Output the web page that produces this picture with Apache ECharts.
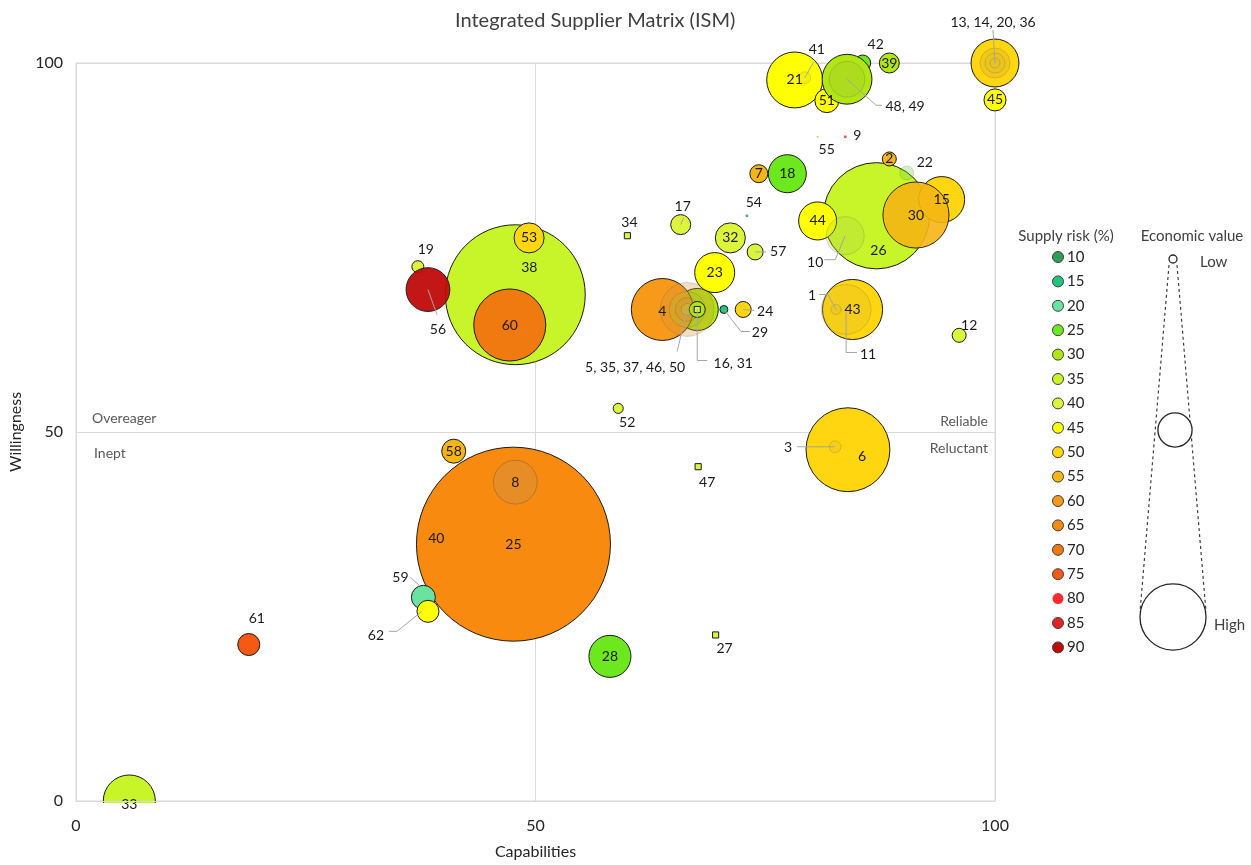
<!DOCTYPE html>
<html>
<head>
<meta charset="utf-8">
<title>Integrated Supplier Matrix (ISM)</title>
<script src="https://cdn.jsdelivr.net/npm/echarts@6/dist/echarts.min.js"></script>
<style>
  html, body { margin: 0; padding: 0; background: #ffffff; }
  #chart { width: 1251px; height: 865px; }
</style>
</head>
<body>
<div id="chart"></div>
<script>
// Suppliers, listed in drawing order (large bubbles first so smaller ones sit on top)
const SUPPLIERS = ['25','38','26','6','60','15','30','16','4','5','35','37','31','46','50','43','11','1','21','41','51','42','48','49','13','14','20','36','45','39','33','18','7','2','22','44','10','57','12','24','29','23','17','34','32','53','19','56','52','58','8','40','59','62','47','27','28','3','61','9','55','54'];
// Capabilities score (x)
const CAPABILITY = [47.6,47.8,87.1,84.0,47.2,94.2,91.4,67.6,63.8,66.5,66.5,66.5,67.6,66.5,67.6,84.5,83.8,82.7,78.2,79.3,81.7,85.6,83.9,83.9,100,100,100,100,100,88.5,5.8,77.4,74.3,88.5,90.4,80.7,83.7,73.9,96.1,72.6,70.5,69.5,65.8,60.0,71.2,49.3,37.2,38.3,59.0,41.1,47.8,39.2,37.8,38.3,67.7,69.6,58.1,82.6,18.8,83.7,80.7,73.0];
// Willingness score (y)
const WILLINGNESS = [34.8,68.6,79.3,47.6,64.5,81.5,79.4,66.6,66.6,66.6,66.6,66.6,66.6,66.6,66.6,66.6,66.6,66.6,97.7,98.0,94.9,100,97.8,97.8,100,100,100,100,95.0,100,0,85.0,85.0,87.0,85.1,78.6,76.6,74.4,63.1,66.6,66.6,71.6,78.1,76.6,76.3,76.3,72.4,69.3,53.2,47.4,43.2,33.8,27.6,25.7,45.3,22.5,19.6,48.0,21.2,90.0,90.0,79.3];
// Supply risk (%)
const SUPPLY_RISK = [65,35,35,50,70,50,55,30,60,60,30,60,30,40,40,50,50,50,45,45,45,25,30,30,50,55,50,50,45,30,35,25,55,55,25,45,35,40,40,50,15,45,40,40,40,50,40,90,40,55,60,65,20,45,40,40,25,50,75,80,25,10];
// Economic value (bubble area)
const ECONOMIC_VALUE = [100,52,30,18.7,13.8,5.6,11.6,4.7,10.2,7.7,3.4,1.5,0.68,0.38,0.1,9.6,6.6,0.27,8.3,0.38,1.53,0.68,6.6,3.4,6.1,2.4,1.06,0.27,1.29,1.06,7.2,3.84,0.86,0.52,0.52,3.84,3.84,0.68,0.52,0.68,0.17,4.25,1.06,0.1,2.4,2.4,0.38,5.1,0.27,1.53,5.1,0.04,1.53,1.29,0.1,0.1,4.7,0.38,1.29,0.024,0.01,0.024];

// Supply risk colour scale
const RISK_LEVELS = [10,15,20,25,30,35,40,45,50,55,60,65,70,75,80,85,90];
const RISK_COLORS = ['#2e9e5a','#22c47e','#6be3a0','#6ee81e','#b0e614','#c8f52a','#dcf53c','#ffff00','#ffd60f','#f5b514','#f79a1a','#f98a10','#f07a10','#f55a14','#ff2a2a','#e02424','#c00a0a'];

// Economic value key (low / medium / high reference bubbles)
const ECON_KEY_VALUES = [0.17, 3.1, 11.6];
const ECON_KEY_TEXT = ['Low', '', 'High'];

const AXIS_TICKS = [0, 50, 100];
const QUADRANT_NAMES = ['Overeager', 'Inept', 'Reliable', 'Reluctant'];

// Grouped labels: one label covers coincident suppliers
const LABEL_TEXT = { '13': '13, 14, 20, 36', '48': '48, 49', '16': '16, 31', '5': '5, 35, 37, 46, 50' };
const UNLABELLED = new Set(['14','20','36','49','31','35','37','46','50']);
// Suppliers hidden behind others, drawn see-through
const FAINT = new Set(['5','35','37','46','11','1','41','49','14','20','36','22','10','8','3']);
const FAINT_OPACITY = { '8': 0.5 };
const TRANSLUCENT = { '30': 0.9, '56': 0.95 };

// Label placement (pixel offsets from the bubble centre) and leader lines
const LABEL_LAYOUT = {
  '13': { dx: -2, dy: -41, leader: [[0, 0], [-2, -33]] },
  '41': { dx: 12, dy: -28, leader: [[0, 0], [9, -16]] },
  '42': { dx: 13, dy: -19 },
  '48': { dx: 58, dy: 27, leader: [[0, 0], [29, 26], [35, 26]] },
  '9':  { dx: 12, dy: -1 },
  '55': { dx: 9, dy: 13 },
  '22': { dx: 18, dy: -10 },
  '54': { dx: 7, dy: -13 },
  '10': { dx: -30, dy: 27, leader: [[0, 0], [-10, 24], [-21, 24]] },
  '57': { dx: 23, dy: 0, leader: [[0, 0], [11, 0]] },
  '1':  { dx: -24, dy: -14, leader: [[0, 0], [-8, -15], [-17, -15]] },
  '11': { dx: 22, dy: 45, leader: [[0, 2], [0, 43], [11, 43]] },
  '12': { dx: 10, dy: -10 },
  '24': { dx: 22, dy: 2, leader: [[0, 0], [11, 1]] },
  '29': { dx: 36, dy: 23, leader: [[0, 0], [17, 22], [26, 22]] },
  '16': { dx: 36, dy: 54, leader: [[0, 0], [0, 51], [10, 51]] },
  '5':  { dx: -52, dy: 58, leader: [[0, 0], [-10, 42]] },
  '17': { dx: 2, dy: -18, leader: [[0, 0], [3, -7]] },
  '34': { dx: 2, dy: -13 },
  '19': { dx: 8, dy: -17 },
  '56': { dx: 10, dy: 40, leader: [[0, 0], [9, 25]] },
  '52': { dx: 9, dy: 14 },
  '40': { dx: 0, dy: -13 },
  '59': { dx: -23, dy: -20, leader: [[-3, -11], [-13, -20]] },
  '62': { dx: -52, dy: 24, leader: [[-6, 0], [-31, 20], [-39, 20]] },
  '47': { dx: 9, dy: 16 },
  '27': { dx: 9, dy: 14 },
  '3':  { dx: -47, dy: 1, leader: [[0, 0], [-38, 0]] },
  '61': { dx: 8, dy: -26 },
  '26': { dx: 2, dy: 35 },
  '38': { dx: 14, dy: -27 },
  '6':  { dx: 14, dy: 7 },
  '4':  { dx: 0, dy: 2 },
  '33': { dx: 0, dy: 3 }
};

// Quadrant captions, anchored to the mid-line of the willingness axis
const QUADRANT_LAYOUT = [
  { x: 0, y: 50, dx: 16, dy: -14, align: 'left' },
  { x: 0, y: 50, dx: 18, dy: 21, align: 'left' },
  { x: 100, y: 50, dx: -7, dy: -11, align: 'right' },
  { x: 100, y: 50, dx: -7, dy: 16, align: 'right' }
];

const FONT = 'Lato, "Noto Sans", sans-serif';
const GRID = { left: 76, right: 256, top: 63, bottom: 63 };

function riskColor(r) {
  let k = 0;
  for (let i = 0; i < RISK_LEVELS.length; i++) if (Math.abs(RISK_LEVELS[i] - r) < Math.abs(RISK_LEVELS[k] - r)) k = i;
  return RISK_COLORS[k];
}
// bubble area proportional to economic value
function bubbleDiameter(v) { return 19.4 * Math.sqrt(v); }

function mixGrey(hex, t) {
  const n = parseInt(hex.slice(1), 16);
  const c = [(n >> 16) & 255, (n >> 8) & 255, n & 255].map(v => Math.round(v * (1 - t) + 128 * t));
  return 'rgb(' + c.join(',') + ')';
}

const bubbles = SUPPLIERS.map((id, i) => {
  const d = bubbleDiameter(ECONOMIC_VALUE[i]);
  const col = riskColor(SUPPLY_RISK[i]);
  let itemStyle;
  if (FAINT.has(id)) {
    itemStyle = { color: mixGrey(col, 0.3), opacity: FAINT_OPACITY[id] || 0.3, borderColor: 'rgba(60,60,60,0.6)', borderWidth: 1 };
  } else if (d < 4) {
    itemStyle = { color: col, borderWidth: 0 };
  } else {
    itemStyle = { color: col, borderColor: '#1a1a1a', borderWidth: 1, opacity: TRANSLUCENT[id] || 1 };
  }
  return {
    name: id,
    value: [CAPABILITY[i], WILLINGNESS[i], ECONOMIC_VALUE[i], SUPPLY_RISK[i]],
    symbol: (d < 7 && d >= 4 && !FAINT.has(id)) ? 'rect' : 'circle',
    symbolSize: Math.max(d, 1.5),
    itemStyle
  };
});

const labelData = SUPPLIERS.map((id, i) => [CAPABILITY[i], WILLINGNESS[i], i]).filter(d => !UNLABELLED.has(SUPPLIERS[d[2]]));
const quadrantData = QUADRANT_LAYOUT.map((q, i) => [q.x, q.y, i]);

const chart = echarts.init(document.getElementById('chart'), null, { renderer: 'canvas' });

// Legend graphics: supply risk colours and economic value key
const legend = [];
legend.push({ type: 'text', x: 1066, y: 236, style: { text: 'Supply risk (%)', fill: '#404040', font: '15px ' + FONT, align: 'center', verticalAlign: 'middle' } });
RISK_LEVELS.forEach((lvl, k) => {
  const y = 257 + k * 24.4;
  const noBorder = lvl === 80;
  legend.push({ type: 'circle', shape: { cx: 1058, cy: y, r: 5.5 }, style: { fill: RISK_COLORS[k], stroke: noBorder ? null : '#404040', lineWidth: 1 } });
  legend.push({ type: 'text', x: 1067, y: y, style: { text: String(lvl), fill: '#262626', font: '15px ' + FONT, align: 'left', verticalAlign: 'middle' } });
});
legend.push({ type: 'text', x: 1192, y: 236, style: { text: 'Economic value', fill: '#404040', font: '15px ' + FONT, align: 'center', verticalAlign: 'middle' } });
const keyCentres = [[1173, 259], [1175, 430], [1173, 617]];
const keyR = ECON_KEY_VALUES.map(v => bubbleDiameter(v) / 2);
legend.push({ type: 'line', shape: { x1: 1169, y1: 265, x2: 1140, y2: 612 }, style: { stroke: '#404040', lineWidth: 1.2, lineDash: [3, 3] } });
legend.push({ type: 'line', shape: { x1: 1177, y1: 265, x2: 1206, y2: 612 }, style: { stroke: '#404040', lineWidth: 1.2, lineDash: [3, 3] } });
ECON_KEY_VALUES.forEach((v, k) => {
  legend.push({ type: 'circle', shape: { cx: keyCentres[k][0], cy: keyCentres[k][1], r: keyR[k] }, style: { fill: '#ffffff', stroke: '#262626', lineWidth: 1.3 } });
});
legend.push({ type: 'text', x: 1200, y: 262, style: { text: ECON_KEY_TEXT[0], fill: '#404040', font: '15px ' + FONT, align: 'left', verticalAlign: 'middle' } });
legend.push({ type: 'text', x: 1214, y: 625, style: { text: ECON_KEY_TEXT[2], fill: '#404040', font: '15px ' + FONT, align: 'left', verticalAlign: 'middle' } });
// mask below the capabilities axis so bubbles on willingness 0 are cut at the plot edge
legend.push({ type: 'rect', z: 5, shape: { x: GRID.left + 1, y: 865 - GRID.bottom + 1, width: 1251 - GRID.left - GRID.right - 2, height: 40 }, style: { fill: '#ffffff' } });

const axisBase = {
  type: 'value', min: 0, max: 100, interval: 50,
  axisTick: { show: false },
  nameTextStyle: { color: '#262626', fontSize: 16, fontFamily: FONT },
  nameLocation: 'middle'
};
const tickFormatter = v => AXIS_TICKS.includes(v) ? String(v) : '';

chart.setOption({
  backgroundColor: '#ffffff',
  animation: false,
  title: {
    text: 'Integrated Supplier Matrix (ISM)', left: 450, top: 6,
    textStyle: { color: '#404040', fontSize: 20, fontWeight: 'normal', fontFamily: FONT }
  },
  grid: Object.assign({ show: true, borderColor: '#d9d9d9', borderWidth: 1, containLabel: false }, GRID),
  xAxis: [
    // gridlines, drawn beneath the bubbles
    Object.assign({}, axisBase, {
      z: 0,
      axisLine: { show: false },
      axisLabel: { show: false },
      splitLine: { show: true, lineStyle: { color: '#d9d9d9', width: 1 } }
    }),
    // axis line, tick labels and title, drawn above the edge mask
    Object.assign({}, axisBase, {
      z: 20, position: 'bottom', offset: 0,
      name: 'Capabilities', nameGap: 43,
      axisLine: { show: true, lineStyle: { color: '#d9d9d9', width: 1 } },
      splitLine: { show: false },
      axisLabel: { color: '#262626', fontSize: 16, fontFamily: FONT, margin: 17, formatter: tickFormatter }
    })
  ],
  yAxis: Object.assign({}, axisBase, {
    z: 0,
    name: 'Willingness', nameGap: 42, nameRotate: 90,
    axisLine: { show: true, lineStyle: { color: '#d9d9d9', width: 1 } },
    splitLine: { show: true, lineStyle: { color: '#d9d9d9', width: 1 } },
    axisLabel: { color: '#262626', fontSize: 16, fontFamily: FONT, margin: 13, formatter: tickFormatter }
  }),
  graphic: legend,
  series: [
    {
      type: 'scatter', name: 'Suppliers', clip: false, z: 2, xAxisIndex: 0,
      data: bubbles, silent: true
    },
    {
      type: 'custom', name: 'Quadrants', clip: false, silent: true, z: 3, xAxisIndex: 0,
      data: quadrantData, encode: { x: 0, y: 1 },
      renderItem(params, api) {
        const k = api.value(2);
        const q = QUADRANT_LAYOUT[k];
        const p = api.coord([api.value(0), api.value(1)]);
        return { type: 'text', x: p[0] + q.dx, y: p[1] + q.dy,
          style: { text: QUADRANT_NAMES[k], fill: '#595959', font: '14px ' + FONT, align: q.align, verticalAlign: 'middle' } };
      }
    },
    {
      type: 'custom', name: 'Supplier labels', clip: false, silent: true, z: 10, xAxisIndex: 0,
      data: labelData, encode: { x: 0, y: 1 },
      renderItem(params, api) {
        const i = api.value(2);
        const id = SUPPLIERS[i];
        const p = api.coord([api.value(0), api.value(1)]);
        const spec = LABEL_LAYOUT[id] || { dx: 0, dy: 0 };
        const children = [];
        if (spec.leader) {
          children.push({ type: 'polyline', shape: { points: spec.leader.map(q => [p[0] + q[0], p[1] + q[1]]) },
            style: { stroke: '#a6a6a6', lineWidth: 1, fill: null } });
        }
        children.push({ type: 'text', x: p[0] + spec.dx, y: p[1] + spec.dy,
          style: { text: LABEL_TEXT[id] || id, fill: '#1a1a1a', font: '14px ' + FONT, align: 'center', verticalAlign: 'middle' } });
        return { type: 'group', children };
      }
    }
  ]
});
</script>
</body>
</html>
